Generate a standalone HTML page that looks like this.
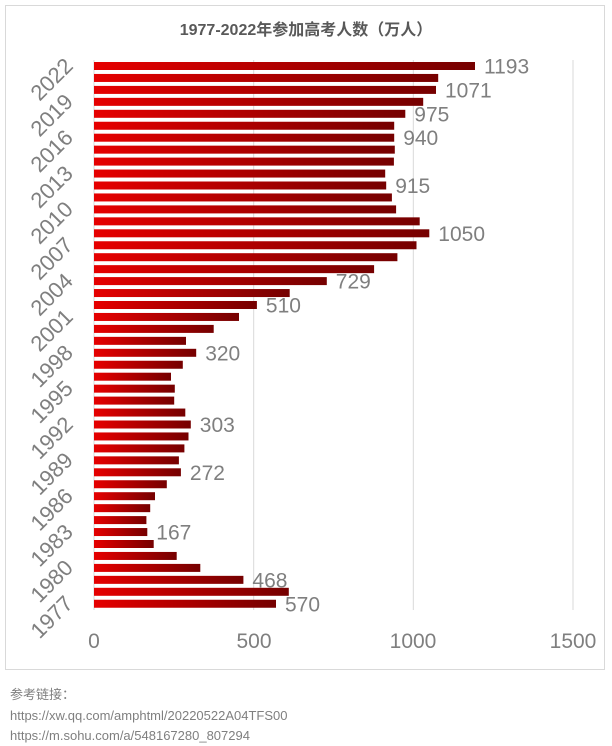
<!DOCTYPE html>
<html><head><meta charset="utf-8"><style>
html,body{margin:0;padding:0;background:#fff;width:612px;height:746px;overflow:hidden}
svg{display:block}
</style></head><body>
<svg width="612" height="746" xmlns="http://www.w3.org/2000/svg" font-family="'Liberation Sans','Noto Sans CJK SC',sans-serif">
<defs><linearGradient id="g" x1="0" x2="1" y1="0" y2="0"><stop offset="0" stop-color="#e60000"/><stop offset="1" stop-color="#750000"/></linearGradient></defs>
<rect x="5.5" y="5.5" width="599" height="664" fill="#fff" stroke="#d9d9d9"/>
<text x="306" y="35" text-anchor="middle" font-size="16" font-weight="bold" fill="#595959">1977-2022年参加高考人数（万人）</text>
<g stroke="#d9d9d9" stroke-width="1">
<line x1="94" y1="60" x2="94" y2="610"/><line x1="253.7" y1="60" x2="253.7" y2="610"/><line x1="413.3" y1="60" x2="413.3" y2="610"/><line x1="573" y1="60" x2="573" y2="610"/>
</g>
<g fill="url(#g)">
<rect x="94" y="62" width="381" height="8"/>
<rect x="94" y="73.95" width="344.2" height="8"/>
<rect x="94" y="85.9" width="342" height="8"/>
<rect x="94" y="97.85" width="329.2" height="8"/>
<rect x="94" y="109.8" width="311.3" height="8"/>
<rect x="94" y="121.75" width="300.2" height="8"/>
<rect x="94" y="133.7" width="300.2" height="8"/>
<rect x="94" y="145.65" width="300.8" height="8"/>
<rect x="94" y="157.6" width="299.9" height="8"/>
<rect x="94" y="169.55" width="291.2" height="8"/>
<rect x="94" y="181.5" width="292.2" height="8"/>
<rect x="94" y="193.45" width="297.9" height="8"/>
<rect x="94" y="205.4" width="302.1" height="8"/>
<rect x="94" y="217.35" width="325.7" height="8"/>
<rect x="94" y="229.3" width="335.3" height="8"/>
<rect x="94" y="241.25" width="322.5" height="8"/>
<rect x="94" y="253.2" width="303.4" height="8"/>
<rect x="94" y="265.15" width="280.1" height="8"/>
<rect x="94" y="277.1" width="232.8" height="8"/>
<rect x="94" y="289.05" width="195.7" height="8"/>
<rect x="94" y="301" width="162.9" height="8"/>
<rect x="94" y="312.95" width="145" height="8"/>
<rect x="94" y="324.9" width="119.7" height="8"/>
<rect x="94" y="336.85" width="92" height="8"/>
<rect x="94" y="348.8" width="102.2" height="8"/>
<rect x="94" y="360.75" width="88.8" height="8"/>
<rect x="94" y="372.7" width="77" height="8"/>
<rect x="94" y="384.65" width="80.8" height="8"/>
<rect x="94" y="396.6" width="80.2" height="8"/>
<rect x="94" y="408.55" width="91.3" height="8"/>
<rect x="94" y="420.5" width="96.8" height="8"/>
<rect x="94" y="432.45" width="94.5" height="8"/>
<rect x="94" y="444.4" width="90.4" height="8"/>
<rect x="94" y="456.35" width="84.9" height="8"/>
<rect x="94" y="468.3" width="86.9" height="8"/>
<rect x="94" y="480.25" width="72.8" height="8"/>
<rect x="94" y="492.2" width="61" height="8"/>
<rect x="94" y="504.15" width="56.2" height="8"/>
<rect x="94" y="516.1" width="52.4" height="8"/>
<rect x="94" y="528.05" width="53.3" height="8"/>
<rect x="94" y="540" width="59.7" height="8"/>
<rect x="94" y="551.95" width="82.7" height="8"/>
<rect x="94" y="563.9" width="106.3" height="8"/>
<rect x="94" y="575.85" width="149.4" height="8"/>
<rect x="94" y="587.8" width="194.8" height="8"/>
<rect x="94" y="599.75" width="182" height="8"/>
</g>
<g font-size="21" fill="#7f7f7f">
<text x="484" y="73.5">1193</text>
<text x="445" y="97.4">1071</text>
<text x="414.3" y="121.3">975</text>
<text x="403.2" y="145.2">940</text>
<text x="395.2" y="193">915</text>
<text x="438.3" y="240.8">1050</text>
<text x="335.8" y="288.6">729</text>
<text x="265.9" y="312.5">510</text>
<text x="205.2" y="360.3">320</text>
<text x="199.8" y="432">303</text>
<text x="189.9" y="479.8">272</text>
<text x="156.3" y="539.6">167</text>
<text x="252.4" y="587.4">468</text>
<text x="285" y="611.3">570</text>
</g>
<g font-size="22" fill="#7f7f7f" text-anchor="end">
<text transform="translate(70,63) rotate(-45)" dy="6">2022</text>
<text transform="translate(70,98.85) rotate(-45)" dy="6">2019</text>
<text transform="translate(70,134.7) rotate(-45)" dy="6">2016</text>
<text transform="translate(70,170.55) rotate(-45)" dy="6">2013</text>
<text transform="translate(70,206.4) rotate(-45)" dy="6">2010</text>
<text transform="translate(70,242.25) rotate(-45)" dy="6">2007</text>
<text transform="translate(70,278.1) rotate(-45)" dy="6">2004</text>
<text transform="translate(70,313.95) rotate(-45)" dy="6">2001</text>
<text transform="translate(70,349.8) rotate(-45)" dy="6">1998</text>
<text transform="translate(70,385.65) rotate(-45)" dy="6">1995</text>
<text transform="translate(70,421.5) rotate(-45)" dy="6">1992</text>
<text transform="translate(70,457.35) rotate(-45)" dy="6">1989</text>
<text transform="translate(70,493.2) rotate(-45)" dy="6">1986</text>
<text transform="translate(70,529.05) rotate(-45)" dy="6">1983</text>
<text transform="translate(70,564.9) rotate(-45)" dy="6">1980</text>
<text transform="translate(70,600.75) rotate(-45)" dy="6">1977</text>
</g>
<g font-size="21" fill="#7f7f7f" text-anchor="middle">
<text x="94" y="648">0</text><text x="254" y="648">500</text><text x="413" y="648">1000</text><text x="573" y="648">1500</text>
</g>
<g font-size="13" fill="#7f7f7f">
<text x="10" y="699">参考链接：</text>
<text x="10" y="720">https://xw.qq.com/amphtml/20220522A04TFS00</text>
<text x="10" y="740">https://m.sohu.com/a/548167280_807294</text>
</g>
</svg>
</body></html>
